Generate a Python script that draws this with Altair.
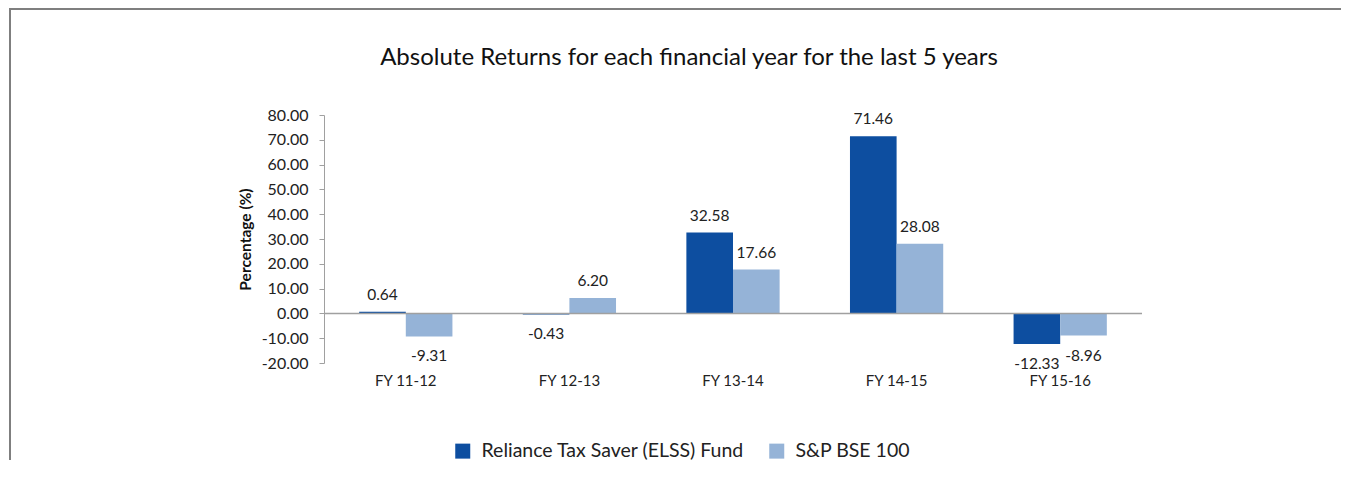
import altair as alt
import pandas as pd

categories = ["FY 11-12", "FY 12-13", "FY 13-14", "FY 14-15", "FY 15-16"]
series_names = ["Reliance Tax Saver (ELSS) Fund", "S&P BSE 100"]
fund_values = [0.64, -0.43, 32.58, 71.46, -12.33]
index_values = [-9.31, 6.20, 17.66, 28.08, -8.96]
y_ticks = [-20, -10, 0, 10, 20, 30, 40, 50, 60, 70, 80]
colors = ["#0D4EA0", "#95B3D7"]

rows = []
for c, f, i in zip(categories, fund_values, index_values):
    rows.append({"cat": c, "series": series_names[0], "val": f})
    rows.append({"cat": c, "series": series_names[1], "val": i})
df = pd.DataFrame(rows)

FONT = "Lato"
W, H = 818, 248
MINUS_FIX = "replace(format(datum.val, '.2f'), '\u2212', '-')"

x_enc = alt.X("cat:N", sort=categories, title=None,
              scale=alt.Scale(paddingInner=0.43, paddingOuter=0.215),
              axis=alt.Axis(labelAngle=0, ticks=False, domain=False, labelPadding=10,
                            labelFontSize=15, labelColor="#222", labelFont=FONT))
xo_enc = alt.XOffset("series:N", sort=series_names, scale=alt.Scale(paddingInner=0))
y_scale = alt.Scale(domain=[-20, 80], nice=False, zero=False)
y_axis = alt.Axis(values=y_ticks, format=".2f", grid=False, tickSize=5,
                  labelOverlap=False,
                  labelExpr="replace(datum.label, '\u2212', '-')",
                  labelPadding=11, labelFontSize=16, labelColor="#222",
                  labelFont=FONT, domainColor="#A0A0A0", tickColor="#A0A0A0",
                  titleFont=FONT, titleFontSize=15.5, titleFontWeight="bold",
                  titleColor="#111", titlePadding=8)
y_enc = alt.Y("val:Q", title="Percentage (%)", scale=y_scale, axis=y_axis)

base = alt.Chart(df).transform_calculate(lbl=MINUS_FIX)

bars = base.mark_bar().encode(
    x=x_enc, xOffset=xo_enc, y=y_enc,
    color=alt.Color("series:N", sort=series_names,
                    scale=alt.Scale(domain=series_names, range=colors),
                    legend=alt.Legend(title=None, orient="none", legendX=129, legendY=326,
                                      direction="horizontal", symbolType="square",
                                      symbolSize=225, symbolStrokeWidth=0,
                                      labelFontSize=19.5, labelFont=FONT, labelColor="#222",
                                      labelLimit=500,
                                      columnPadding=22, labelOffset=9)),
)

pos_labels = base.transform_filter("datum.val >= 0").mark_text(
    baseline="alphabetic", dy=-12, fontSize=15.5, font=FONT, color="#222"
).encode(x=x_enc, xOffset=xo_enc, y=y_enc, text="lbl:N")

neg_labels = base.transform_filter("datum.val < 0").mark_text(
    baseline="alphabetic", dy=25, fontSize=15.5, font=FONT, color="#222"
).encode(x=x_enc, xOffset=xo_enc, y=y_enc, text="lbl:N")

zero_line = alt.Chart(pd.DataFrame({"z": [0]})).mark_rule(color="#A0A0A0", strokeWidth=1.5).encode(
    y=alt.Y("z:Q", title="Percentage (%)", scale=y_scale, axis=y_axis))

frame_df = pd.DataFrame({"k": [0]})
frame_left = alt.Chart(frame_df).mark_rule(color="#7F7F7F", strokeWidth=2).encode(
    x=alt.value(-314), y=alt.value(-106), y2=alt.value(400))
frame_top = alt.Chart(frame_df).mark_rule(color="#7F7F7F", strokeWidth=2).encode(
    x=alt.value(-315), x2=alt.value(1017), y=alt.value(-106))

chart = alt.layer(bars, zero_line, pos_labels, neg_labels, frame_left, frame_top).properties(
    width=W, height=H,
    autosize=alt.AutoSizeParams(type="none"),
    padding={"left": 316, "top": 107, "right": 199, "bottom": 97},
    title=alt.TitleParams("Absolute Returns for each financial year for the last 5 years",
                          fontSize=24, font=FONT, fontWeight="normal", color="#111",
                          anchor="middle", dx=-44, offset=-62),
).configure_view(stroke=None)

chart.save("out.html", embed_options={"renderer": "svg", "actions": False})
